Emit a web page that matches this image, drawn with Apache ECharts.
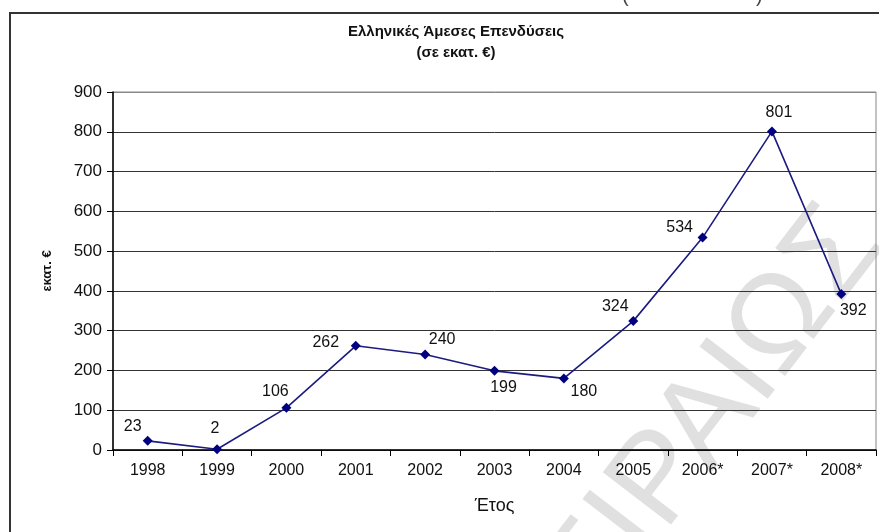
<!DOCTYPE html>
<html>
<head>
<meta charset="utf-8">
<script src="https://cdn.jsdelivr.net/npm/echarts@6/dist/echarts.min.js"></script>
<style>
  html, body { margin: 0; padding: 0; background: #fff; }
  #chart { width: 879px; height: 532px; }
</style>
</head>
<body>
<div id="chart"></div>
<script>
// δεδομένα
const years = ['1998', '1999', '2000', '2001', '2002', '2003', '2004', '2005', '2006*', '2007*', '2008*'];
const investments = [23, 2, 106, 262, 240, 199, 180, 324, 534, 801, 392];
const yTicks = [0, 100, 200, 300, 400, 500, 600, 700, 800, 900];

// θέση ετικέτας για κάθε σημείο
const labelOffsets = [
  [-15, -14], [-2, -21], [-11, -16], [-30, -3], [17, -15], [9, 17],
  [20, 13], [-18, -15], [-23, -10], [7, -19], [12, 17],
];

const chart = echarts.init(document.getElementById('chart'));

const option = {
  animation: false,
  backgroundColor: '#fff',
  title: {
    text: 'Ελληνικές Άμεσες Επενδύσεις\n(σε εκατ. €)',
    left: 451,
    textAlign: 'center',
    top: 16,
    textStyle: {
      fontFamily: 'Liberation Sans',
      fontWeight: 'bold',
      fontSize: 15,
      lineHeight: 21,
      color: '#111',
    },
  },
  grid: {
    left: 113,
    right: 3,
    top: 92,
    bottom: 82,
    show: true,
    borderColor: '#888',
    borderWidth: 1,
  },
  xAxis: {
    type: 'category',
    data: years,
    boundaryGap: true,
    name: 'Έτος',
    nameLocation: 'middle',
    nameGap: 47,
    nameTextStyle: {
      fontFamily: 'Liberation Sans',
      fontSize: 18,
      color: '#111',
    },
    axisLine: { lineStyle: { color: '#000', width: 1.5 } },
    axisTick: { show: true, length: 6, lineStyle: { color: '#000' } },
    axisLabel: {
      fontFamily: 'Liberation Sans',
      fontSize: 16,
      color: '#111',
      margin: 13,
    },
    splitLine: { show: false },
  },
  yAxis: {
    type: 'value',
    min: yTicks[0],
    max: yTicks[yTicks.length - 1],
    interval: 100,
    name: 'εκατ. €',
    nameLocation: 'middle',
    nameGap: 59,
    nameRotate: 90,
    nameTextStyle: {
      fontFamily: 'Liberation Sans',
      fontWeight: 'bold',
      fontSize: 13,
      color: '#111',
    },
    axisLine: { show: true, lineStyle: { color: '#000', width: 1.5 } },
    axisTick: { show: true, length: 6, lineStyle: { color: '#000' } },
    axisLabel: {
      fontFamily: 'Liberation Sans',
      fontSize: 17,
      color: '#111',
      margin: 11,
    },
    splitLine: {
      show: true,
      lineStyle: {
        color: ['#333', '#333', '#333', '#333', '#333', '#333', '#333', '#333', '#333', '#888'],
        width: 1,
      },
    },
  },
  graphic: [
    {
      type: 'rect',
      shape: { x: 10, y: 13, width: 900, height: 600 },
      style: { fill: 'none', stroke: '#333', lineWidth: 2 },
      silent: true,
    },
    {
      type: 'text',
      x: 622, y: -14,
      style: { text: '(', font: '20px Liberation Sans', fill: '#444' },
    },
    {
      type: 'text',
      x: 756, y: -14,
      style: { text: ')', font: '20px Liberation Sans', fill: '#444' },
    },
    {
      type: 'text',
      x: 908, y: 262,
      rotation: 52.5 * Math.PI / 180,
      z: -10,
      style: {
        text: 'ΠΕΙΡΑΙΩΣ',
        font: '125px Liberation Sans',
        fill: '#e0e0e0',
        textAlign: 'right',
        textVerticalAlign: 'bottom',
      },
      silent: true,
    },
  ],
  series: [
    {
      name: 'Επενδύσεις',
      type: 'line',
      data: investments.map((v, i) => ({
        value: v,
        label: { offset: labelOffsets[i] },
      })),
      symbol: 'diamond',
      symbolSize: 10,
      itemStyle: { color: '#000080' },
      lineStyle: { color: '#1c1c80', width: 1.6 },
      z: 5,
      label: {
        show: true,
        position: 'inside',
        fontFamily: 'Liberation Sans',
        fontSize: 16,
        color: '#111',
      },
    },
  ],
};

chart.setOption(option);
</script>
</body>
</html>
